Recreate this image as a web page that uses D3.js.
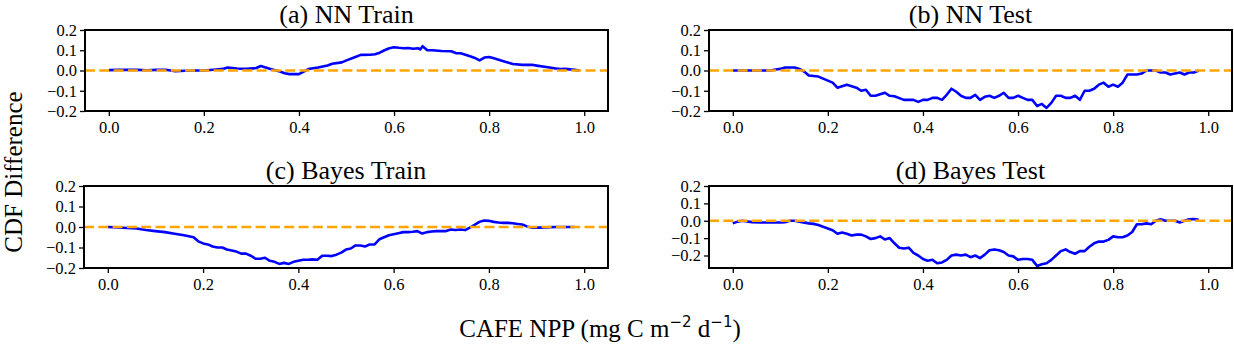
<!DOCTYPE html>
<html>
<head>
<meta charset="utf-8">
<script src="https://cdn.jsdelivr.net/npm/d3@7"></script>
<style>
  body { margin: 0; background: #fff; }
  text { font-family: "Liberation Serif", "Times New Roman", serif; fill: #000; }
</style>
</head>
<body>
<div id="chart"></div>
<script>
var W = 1234, H = 344;

// CDF difference, [x, y]
var nnTrain = [[0,0.002],[0.02,0.003],[0.04,0.003],[0.06,0.003],[0.08,0.001],[0.1,0.003],[0.12,0.004],[0.13,0.0],[0.14,-0.004],[0.16,-0.001],[0.18,0.0],[0.2,0.0],[0.22,0.004],[0.24,0.008],[0.25,0.015],[0.27,0.01],[0.29,0.008],[0.31,0.012],[0.32,0.022],[0.33,0.015],[0.34,0.008],[0.36,-0.005],[0.37,-0.014],[0.38,-0.018],[0.39,-0.017],[0.4,-0.018],[0.41,-0.006],[0.42,0.007],[0.44,0.015],[0.46,0.025],[0.47,0.033],[0.49,0.04],[0.5,0.05],[0.52,0.068],[0.53,0.077],[0.55,0.078],[0.56,0.08],[0.57,0.088],[0.58,0.1],[0.59,0.11],[0.6,0.115],[0.61,0.112],[0.62,0.11],[0.63,0.111],[0.64,0.107],[0.65,0.11],[0.655,0.104],[0.66,0.12],[0.67,0.1],[0.68,0.1],[0.7,0.096],[0.72,0.095],[0.73,0.086],[0.74,0.085],[0.76,0.07],[0.77,0.062],[0.78,0.05],[0.79,0.064],[0.8,0.067],[0.81,0.06],[0.83,0.046],[0.85,0.032],[0.87,0.028],[0.89,0.028],[0.9,0.024],[0.92,0.017],[0.94,0.01],[0.95,0.007],[0.96,0.008],[0.98,0.003],[0.99,0.0]];

var nnTest = [[0,0],[0.02,0],[0.04,0],[0.06,0],[0.08,0],[0.09,0.005],[0.1,0.008],[0.11,0.015],[0.13,0.015],[0.14,0.008],[0.15,-0.005],[0.16,-0.025],[0.18,-0.03],[0.2,-0.05],[0.21,-0.06],[0.22,-0.085],[0.24,-0.07],[0.26,-0.085],[0.27,-0.1],[0.28,-0.095],[0.29,-0.125],[0.3,-0.125],[0.32,-0.11],[0.33,-0.125],[0.34,-0.127],[0.36,-0.145],[0.38,-0.145],[0.39,-0.155],[0.4,-0.145],[0.41,-0.145],[0.42,-0.135],[0.43,-0.135],[0.44,-0.145],[0.45,-0.12],[0.46,-0.09],[0.47,-0.105],[0.48,-0.125],[0.49,-0.135],[0.5,-0.135],[0.51,-0.12],[0.52,-0.145],[0.53,-0.13],[0.54,-0.125],[0.55,-0.135],[0.56,-0.125],[0.57,-0.11],[0.58,-0.135],[0.59,-0.135],[0.6,-0.125],[0.61,-0.135],[0.62,-0.145],[0.63,-0.145],[0.64,-0.175],[0.65,-0.165],[0.66,-0.185],[0.67,-0.16],[0.68,-0.125],[0.69,-0.125],[0.7,-0.135],[0.71,-0.135],[0.72,-0.125],[0.73,-0.145],[0.74,-0.1],[0.75,-0.1],[0.76,-0.09],[0.77,-0.07],[0.78,-0.06],[0.79,-0.08],[0.8,-0.07],[0.81,-0.08],[0.82,-0.06],[0.83,-0.02],[0.84,-0.02],[0.85,-0.02],[0.86,-0.015],[0.87,0],[0.88,0],[0.89,0],[0.9,-0.01],[0.91,-0.01],[0.92,-0.02],[0.93,-0.015],[0.94,-0.01],[0.95,-0.02],[0.96,-0.01],[0.97,-0.01],[0.98,0]];

var bayesTrain = [[0,0],[0.02,-0.002],[0.04,-0.005],[0.06,-0.007],[0.08,-0.015],[0.1,-0.02],[0.12,-0.025],[0.14,-0.033],[0.16,-0.04],[0.18,-0.05],[0.19,-0.07],[0.2,-0.08],[0.21,-0.085],[0.22,-0.095],[0.23,-0.1],[0.24,-0.1],[0.25,-0.11],[0.26,-0.115],[0.27,-0.12],[0.28,-0.13],[0.29,-0.13],[0.3,-0.14],[0.31,-0.155],[0.32,-0.155],[0.33,-0.15],[0.34,-0.165],[0.35,-0.17],[0.36,-0.18],[0.37,-0.175],[0.38,-0.18],[0.39,-0.17],[0.4,-0.165],[0.41,-0.16],[0.42,-0.16],[0.43,-0.158],[0.44,-0.16],[0.45,-0.14],[0.46,-0.14],[0.47,-0.142],[0.48,-0.135],[0.49,-0.125],[0.5,-0.11],[0.51,-0.105],[0.52,-0.09],[0.53,-0.09],[0.54,-0.095],[0.55,-0.085],[0.56,-0.085],[0.57,-0.06],[0.58,-0.05],[0.59,-0.04],[0.6,-0.035],[0.61,-0.03],[0.62,-0.025],[0.63,-0.025],[0.64,-0.023],[0.65,-0.02],[0.66,-0.032],[0.67,-0.025],[0.68,-0.022],[0.69,-0.02],[0.7,-0.02],[0.71,-0.02],[0.72,-0.012],[0.73,-0.015],[0.74,-0.012],[0.75,-0.015],[0.76,-0.003],[0.77,0.01],[0.78,0.025],[0.79,0.032],[0.8,0.03],[0.81,0.025],[0.82,0.022],[0.83,0.02],[0.84,0.02],[0.85,0.018],[0.86,0.015],[0.87,0.012],[0.88,0.003],[0.89,-0.003],[0.9,-0.003],[0.91,-0.003],[0.92,-0.002],[0.94,0.0],[0.96,0.0],[0.98,0.0]];

var bayesTest = [[0,-0.015],[0.01,-0.005],[0.02,0.0],[0.04,-0.008],[0.06,-0.01],[0.08,-0.01],[0.1,-0.01],[0.11,-0.008],[0.12,0.0],[0.13,0.0],[0.14,-0.005],[0.16,-0.015],[0.17,-0.018],[0.18,-0.025],[0.19,-0.035],[0.2,-0.045],[0.21,-0.055],[0.22,-0.075],[0.23,-0.068],[0.24,-0.075],[0.25,-0.085],[0.26,-0.08],[0.27,-0.08],[0.28,-0.09],[0.29,-0.105],[0.3,-0.1],[0.31,-0.09],[0.32,-0.108],[0.33,-0.1],[0.34,-0.13],[0.35,-0.155],[0.36,-0.16],[0.37,-0.155],[0.38,-0.185],[0.39,-0.2],[0.4,-0.22],[0.41,-0.23],[0.42,-0.225],[0.43,-0.245],[0.44,-0.24],[0.45,-0.225],[0.46,-0.2],[0.47,-0.195],[0.48,-0.2],[0.49,-0.195],[0.5,-0.21],[0.51,-0.2],[0.52,-0.215],[0.53,-0.195],[0.54,-0.17],[0.55,-0.165],[0.56,-0.17],[0.57,-0.18],[0.58,-0.2],[0.59,-0.205],[0.6,-0.225],[0.61,-0.22],[0.62,-0.22],[0.63,-0.225],[0.64,-0.26],[0.65,-0.25],[0.66,-0.245],[0.67,-0.225],[0.68,-0.2],[0.69,-0.175],[0.7,-0.165],[0.71,-0.18],[0.72,-0.19],[0.73,-0.175],[0.74,-0.175],[0.75,-0.15],[0.76,-0.13],[0.77,-0.12],[0.78,-0.12],[0.79,-0.11],[0.8,-0.09],[0.81,-0.095],[0.82,-0.095],[0.83,-0.085],[0.84,-0.065],[0.85,-0.02],[0.86,-0.02],[0.87,-0.015],[0.88,-0.02],[0.89,0.0],[0.9,0.008],[0.91,0.0],[0.92,0.0],[0.93,0.0],[0.94,-0.01],[0.95,0.0],[0.96,0.008],[0.97,0.01],[0.98,0.005]];

var titles = ["(a) NN Train", "(b) NN Test", "(c) Bayes Train", "(d) Bayes Test"];
var xTicks = [0, 0.2, 0.4, 0.6, 0.8, 1.0];
var yTicks = [-0.2, -0.1, 0, 0.1, 0.2];
var yMins = [-0.2, -0.2, -0.2, -0.272];

var boxes = [
  { x0: 85,  x1: 608,  y0: 30,  y1: 111 },
  { x0: 709, x1: 1232, y0: 30,  y1: 111 },
  { x0: 84,  x1: 608,  y0: 186, y1: 268 },
  { x0: 709, x1: 1232, y0: 186, y1: 268 }
];
var series = [nnTrain, nnTest, bayesTrain, bayesTest];

var svg = d3.select("#chart").append("svg")
  .attr("width", W)
  .attr("height", H);

svg.append("rect").attr("width", W).attr("height", H).attr("fill", "#fff");

var fmt = d3.format(".1f");

series.forEach(function (data, i) {
  var b = boxes[i];
  var x = d3.scaleLinear().domain([-0.05, 1.05]).range([b.x0, b.x1]);
  var y = d3.scaleLinear().domain([yMins[i], 0.2]).range([b.y1, b.y0]);

  var g = svg.append("g");

  var line = d3.line()
    .x(function (d) { return x(d[0]); })
    .y(function (d) { return y(d[1]); });

  g.append("path")
    .datum(data)
    .attr("d", line)
    .attr("fill", "none")
    .attr("stroke", "#0000ff")
    .attr("stroke-width", 2.6)
    .attr("stroke-linejoin", "round");

  // zero reference
  g.append("line")
    .attr("x1", b.x0).attr("x2", b.x1)
    .attr("y1", y(0)).attr("y2", y(0))
    .attr("stroke", "#ffa500")
    .attr("stroke-width", 2.6)
    .attr("stroke-dasharray", "10,4.3");

  var xAxis = g.append("g")
    .attr("transform", "translate(0," + b.y1 + ")")
    .call(d3.axisBottom(x).tickValues(xTicks).tickFormat(fmt).tickSize(5).tickPadding(5));
  var yAxis = g.append("g")
    .attr("transform", "translate(" + b.x0 + ",0)")
    .call(d3.axisLeft(y).tickValues(yTicks).tickFormat(fmt).tickSize(5).tickPadding(3));

  [xAxis, yAxis].forEach(function (ax) {
    ax.attr("font-family", "Liberation Serif, serif").attr("font-size", 16.5);
    ax.select(".domain").remove();
    ax.selectAll("line").attr("stroke", "#000").attr("stroke-width", 1.3);
    ax.selectAll("text").attr("fill", "#000");
  });

  g.append("rect")
    .attr("x", b.x0).attr("y", b.y0)
    .attr("width", b.x1 - b.x0).attr("height", b.y1 - b.y0)
    .attr("fill", "none")
    .attr("stroke", "#000")
    .attr("stroke-width", 2);

  g.append("text")
    .attr("x", (b.x0 + b.x1) / 2)
    .attr("y", b.y0 - 7)
    .attr("text-anchor", "middle")
    .style("font-size", "26px")
    .text(titles[i]);
});

svg.append("text")
  .attr("transform", "translate(22,172) rotate(-90)")
  .attr("text-anchor", "middle")
  .style("font-size", "25px")
  .text("CDF Difference");

var xl = svg.append("text")
  .attr("x", 600)
  .attr("y", 337)
  .attr("text-anchor", "middle")
  .style("font-size", "25px");
xl.append("tspan").text("CAFE NPP (mg C m");
xl.append("tspan").attr("dy", -10).style("font-family", "'DejaVu Sans', sans-serif").style("font-size", "15px").text("\u22122");
xl.append("tspan").attr("dy", 10).text(" d");
xl.append("tspan").attr("dy", -10).style("font-family", "'DejaVu Sans', sans-serif").style("font-size", "15px").text("\u22121");
xl.append("tspan").attr("dy", 10).text(")");
</script>
</body>
</html>
